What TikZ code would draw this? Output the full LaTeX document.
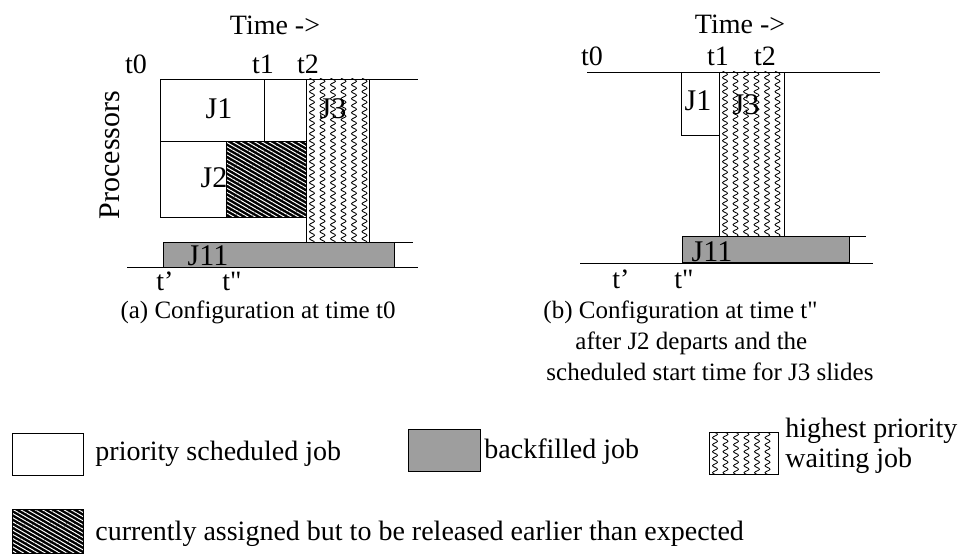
\documentclass[tikz,border=0pt]{standalone}
\usepackage{fontspec}
\setmainfont{Liberation Serif}
\newfontfamily\plainq{Liberation Serif}[Ligatures=TeXOff]
\usetikzlibrary{patterns.meta,decorations.pathmorphing}
\newcommand\dq{{\plainq"}}
\begin{document}
\begin{tikzpicture}[x=1pt,y=-1pt,line width=0.9pt,
  lbl/.style={font=\fontsize{28}{32}\selectfont,inner sep=0pt,anchor=base},
  timelbl/.style={lbl,font=\fontsize{28}{32}\selectfont},
  joblbl/.style={lbl,font=\fontsize{30}{34}\selectfont},
  capa/.style={lbl,font=\fontsize{25}{29}\selectfont},
  capb/.style={lbl,anchor=base west,font=\fontsize{25}{29}\selectfont},
  lblw/.style={lbl,anchor=base west},
  job/.style={draw,fill=white},
  backfill/.style={draw,fill=black!38},
  hatch/.style={draw,preaction={fill=black},pattern={Lines[angle=-30,distance=3.6pt,line width=1pt]},pattern color=white},
  wave/.style={line width=0.8pt,decorate,decoration={snake,amplitude=2.5pt,segment length=7pt}}
]
\useasboundingbox (0,0) rectangle (976,556);

% ---------------- panel (a) ----------------
\node[timelbl] (timea) at (275,35) {Time ->};
\node[lbl] (t0a) at (136,74) {t0};
\node[lbl] (t1a) at (263,74) {t1};
\node[lbl] (t2a) at (308,74) {t2};
\draw (160,79) -- (418,79);
\draw[job] (160,79) rectangle (264,141);
\draw (264,141) -- (306,141);
\draw[job] (160,141) rectangle (306,217);
\draw[hatch] (226,141) rectangle (306,217);
\begin{scope}
  \clip (306,79) rectangle (369,242);
  \foreach \xx in {312,322.5,333,343.5,354,364.5}
    \draw[wave] (\xx,72) -- (\xx,250);
\end{scope}
\draw (306,79) rectangle (369,242);
\draw (369,242) -- (413,242);
\draw[backfill] (163,242) rectangle (394,267);
\draw (127,267) -- (418,267);
\node[joblbl] (J1a) at (219,119) {J1};
\node[joblbl] (J2a) at (214,187) {J2};
\node[joblbl] (J3a) at (333,119) {J3};
\node[joblbl] (J11a) at (208,265) {J11};
\node[lbl] (tpa) at (165,290) {t'};
\node[lbl] (tppa) at (232,290) {t\dq};
\node[joblbl,rotate=90] (proc) at (119,155) {Processors};
\node[capa] (capa) at (258,318) {(a) Configuration at time t0};

% ---------------- panel (b) ----------------
\node[timelbl] (timeb) at (740,34) {Time ->};
\node[lbl] (t0b) at (592,66) {t0};
\node[lbl] (t1b) at (718,66) {t1};
\node[lbl] (t2b) at (765,66) {t2};
\draw (587,72) -- (880,72);
\draw[job] (681,72) rectangle (719,135);
\begin{scope}
  \clip (719,72) rectangle (784,236);
  \foreach \xx in {725,735.5,746,756.5,767,777.5}
    \draw[wave] (\xx,65) -- (\xx,245);
\end{scope}
\draw (719,72) rectangle (784,236);
\draw (784,236) -- (866,236);
\draw[backfill] (682,236) rectangle (849,262);
\draw (580,263) -- (873,263);
\node[joblbl] (J1b) at (698,111) {J1};
\node[joblbl] (J3b) at (746,115) {J3};
\node[joblbl] (J11b) at (712,261) {J11};
\node[lbl] (tpb) at (621,288) {t'};
\node[lbl] (tppb) at (684,288) {t\dq};
\node[capb] (capb1) at (543,318) {(b) Configuration at time t\dq};
\node[capb] (capb2) at (575,349) {after J2 departs and the};
\node[capb] (capb3) at (546,380) {scheduled start time for J3 slides};

% ---------------- legend ----------------
\draw[job] (12,433) rectangle (83,475);
\node[lblw] (lg1) at (95,460) {priority scheduled job};
\draw[backfill] (408,429) rectangle (480,471);
\node[lblw] (lg2) at (484,458) {backfilled job};
\begin{scope}
  \clip (709,432) rectangle (778,474);
  \foreach \xx in {715,725.5,736,746.5,757,767.5}
    \draw[wave] (\xx,425) -- (\xx,480);
\end{scope}
\draw (709,432) rectangle (778,474);
\node[lblw] (lg3a) at (785,437) {highest priority};
\node[lblw] (lg3b) at (785,467) {waiting job};
\draw[hatch] (12,509) rectangle (83,553);
\node[lblw] (lg4) at (95,540) {currently assigned but to be released earlier than expected};
\end{tikzpicture}
\end{document}
